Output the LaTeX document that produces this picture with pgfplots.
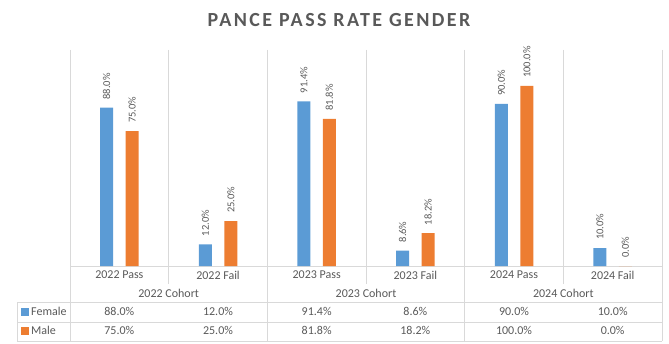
\documentclass[border=0pt]{standalone}
\usepackage{fontspec}
\setmainfont{Carlito}
\newfontfamily\titlefont[LetterSpace=12]{Carlito}
\usepackage{pgfplots}
\pgfplotsset{compat=1.18}
\definecolor{fem}{HTML}{5B9BD5}
\definecolor{mal}{HTML}{ED7D31}
\definecolor{txt}{HTML}{595959}
\definecolor{grd}{HTML}{D9D9D9}
\begin{document}
\begin{tikzpicture}[x=1pt,y=1pt]
\useasboundingbox (0,0) rectangle (669,343);
% grid / table lines
\begin{scope}[grd, line width=0.9pt]
\foreach \x in {70,267.33,464.67,662} \draw (\x,293) -- (\x,2);
\foreach \x in {168.67,366,563.33} \draw (\x,293) -- (\x,59);
\draw (70,77) -- (662,77);
\draw (17,41) -- (662,41);
\draw (17,21) -- (662,21);
\draw (17,2) -- (662,2);
\draw (17,41) -- (17,2);
\end{scope}
% title
\node[text=txt, font=\titlefont\bfseries\fontsize{20}{22}\selectfont] at (339,323) {PANCE PASS RATE GENDER};
\begin{axis}[at={(70pt,77pt)}, anchor=south west, scale only axis,
  width=592pt, height=216pt, xmin=-0.5, xmax=5.5, ymin=0, ymax=120,
  hide axis, clip=false, ybar=12.5pt, bar width=13pt,
  /pgf/number format/assume math mode=true,
  nodes near coords={\pgfmathprintnumber[fixed,fixed zerofill,precision=1,assume math mode=true]{\pgfplotspointmeta}\%},
  every node near coord/.append style={rotate=90, anchor=west, inner xsep=8pt, inner ysep=0pt, font=\fontsize{10.5}{12}\selectfont, text=txt}]
\addplot[fill=fem, draw=none] coordinates {(0,88) (1,12) (2,91.4) (3,8.6) (4,90) (5,10)};
\addplot[fill=mal, draw=none] coordinates {(0,75) (1,25) (2,81.8) (3,18.2) (4,100) (5,0)};
\end{axis}
% category labels
\begin{scope}[font=\fontsize{12}{14}\selectfont, text=txt]
\node at (119.33,68) {2022 Pass};
\node at (218,68) {2022 Fail};
\node at (316.67,68) {2023 Pass};
\node at (415.33,68) {2023 Fail};
\node at (514,68) {2024 Pass};
\node at (612.67,68) {2024 Fail};
\node at (168.67,50) {2022 Cohort};
\node at (366,50) {2023 Cohort};
\node at (563.33,50) {2024 Cohort};
% data table
\fill[fem] (20.5,27) rectangle (28.5,35);
\node[anchor=west, inner xsep=0pt] at (31,31.5) {Female};
\fill[mal] (20.5,8) rectangle (28.5,16);
\node[anchor=west, inner xsep=0pt] at (31,12.5) {Male};
\node at (119.33,31.5) {88.0\%};
\node at (218,31.5) {12.0\%};
\node at (316.67,31.5) {91.4\%};
\node at (415.33,31.5) {8.6\%};
\node at (514,31.5) {90.0\%};
\node at (612.67,31.5) {10.0\%};
\node at (119.33,12.5) {75.0\%};
\node at (218,12.5) {25.0\%};
\node at (316.67,12.5) {81.8\%};
\node at (415.33,12.5) {18.2\%};
\node at (514,12.5) {100.0\%};
\node at (612.67,12.5) {0.0\%};
\end{scope}
\end{tikzpicture}
\end{document}
